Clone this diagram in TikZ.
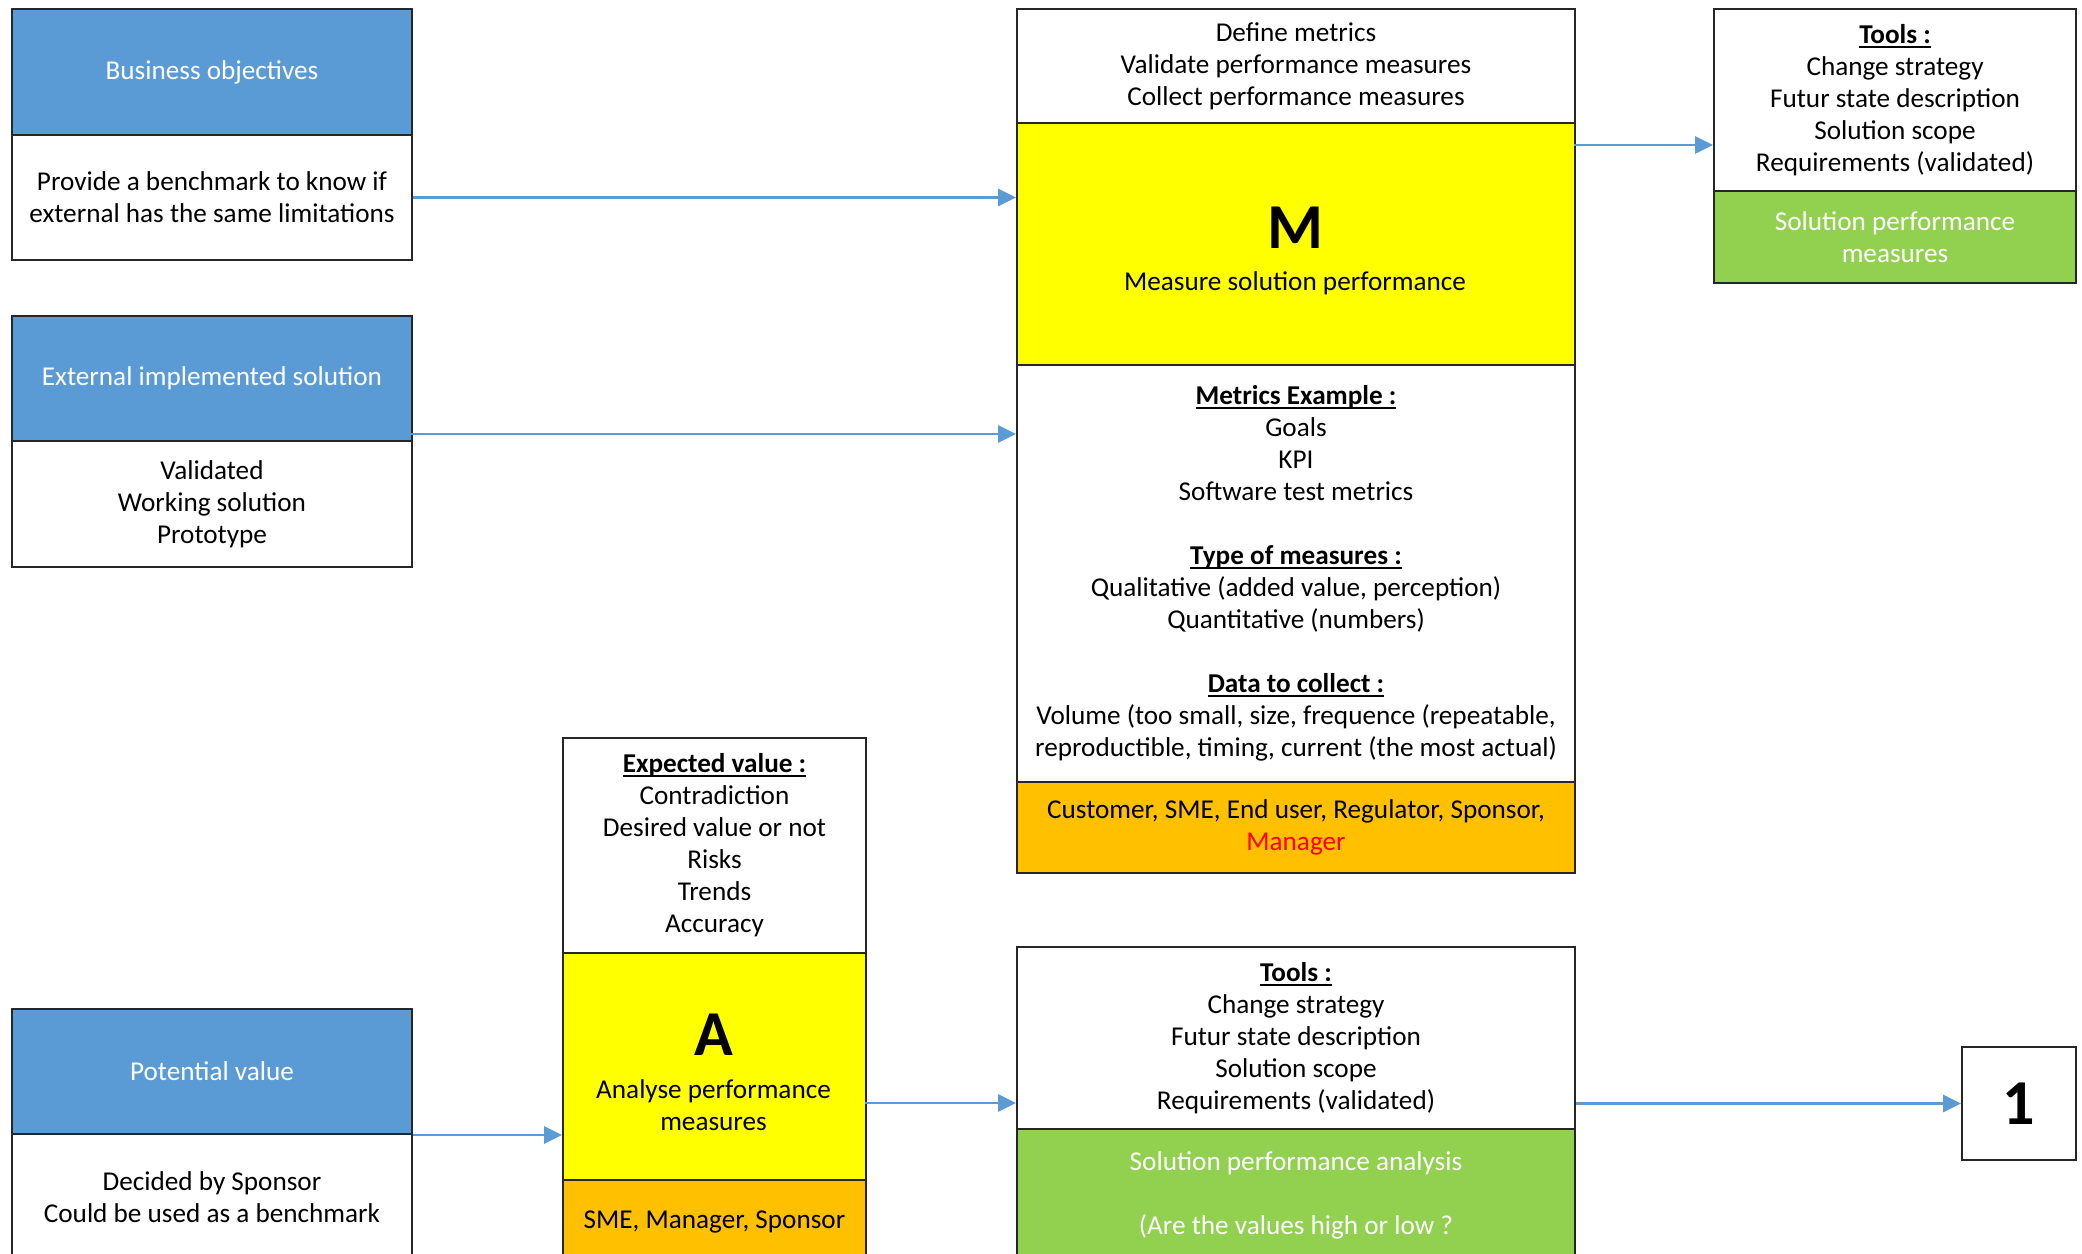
\documentclass[tikz,border=0pt]{standalone}
\usepackage{fontspec}
\setmainfont{Carlito}
\usetikzlibrary{arrows.meta}
\definecolor{boxblue}{HTML}{5B9BD5}
\definecolor{boxyellow}{HTML}{FFFF00}
\definecolor{boxorange}{HTML}{FFC000}
\definecolor{boxgreen}{HTML}{92D050}
\newcommand\bodyfont{\fontsize{27.2}{32}\selectfont}
\newcommand\letterfont{\fontsize{64}{64}\selectfont\bfseries}
\newcommand\myul[1]{\setbox0\hbox{\textbf{#1}}\rlap{\rule[-4.5pt]{\wd0}{2pt}}\box0}
\begin{document}
\begin{tikzpicture}[x=1pt,y=-1pt,
  sec/.style={draw=black!85, line width=2pt, anchor=north west, inner sep=0pt, align=center, font=\bodyfont},
  bluesec/.style={sec, fill=boxblue, text=white},
  whitesec/.style={sec, fill=white, text=black},
  yellowsec/.style={sec, fill=boxyellow, text=black},
  orangesec/.style={sec, fill=boxorange, text=black},
  greensec/.style={sec, fill=boxgreen, text=white},
  sz/.style 2 args={minimum width=#1pt, minimum height=#2pt},
  txt/.style={inner sep=0pt, align=center, font=\bodyfont},
  bigletter/.style={inner sep=0pt, font=\letterfont},
  arr/.style={draw=boxblue, line width=2.8pt, -{Triangle[length=18pt,width=17pt]}}
]
\path[use as bounding box] (0,0) rectangle (2082,1253);
\clip (0,0) rectangle (2082,1253);
\fill[white] (0,0) rectangle (2082,1253);

% Left column
\node[bluesec, sz={400}{126}] (busB) at (11,8) {Business objectives};
\node[whitesec, sz={400}{125}] (busW) at (11,134) {Provide a benchmark to know if\\external has the same limitations};

\node[bluesec, sz={400}{125}] (extB) at (11,315) {External implemented solution};
\node[whitesec, sz={400}{126}] (extW) at (11,440) {Validated\\Working solution\\Prototype};

\node[bluesec, sz={400}{125}] (potB) at (11,1008) {Potential value};
\node[whitesec, sz={400}{127}] (potW) at (11,1133) {Decided by Sponsor\\Could be used as a benchmark};

% M column
\node[whitesec, sz={558}{114}] (Mtop) at (1016,8) {Define metrics\\Validate performance measures\\Collect performance measures};
\node[yellowsec, sz={558}{242}] (Myel) at (1016,122) {};
\node[bigletter] (Mletter) at (1295,228) {M};
\node[txt] (Mcap) at (1295,283) {Measure solution performance};
\node[whitesec, sz={558}{417}] (Mmet) at (1016,364) {\myul{Metrics Example :}\\Goals\\KPI\\Software test metrics\\[32pt]\myul{Type of measures :}\\Qualitative (added value, perception)\\Quantitative (numbers)\\[32pt]\myul{Data to collect :}\\Volume (too small, size, frequence (repeatable,\\reproductible, timing, current (the most actual)};
\node[orangesec, sz={558}{91}] (Mora) at (1016,781) {Customer, SME, End user, Regulator, Sponsor,\\{\color{red}Manager}};

% Tools 1
\node[whitesec, sz={362}{182}] (T1w) at (1713,8) {\myul{Tools :}\\Change strategy\\Futur state description\\Solution scope\\Requirements (validated)};
\node[greensec, sz={362}{92}] (T1g) at (1713,190) {Solution performance\\measures};

% A column
\node[whitesec, sz={303}{215}] (Awh) at (562,737) {\myul{Expected value :}\\Contradiction\\Desired value or not\\Risks\\Trends\\Accuracy};
\node[yellowsec, sz={303}{227}] (Ayel) at (562,952) {};
\node[bigletter] (Aletter) at (713.5,1035) {A};
\node[txt] (Acap) at (713.5,1105) {Analyse performance\\measures};
\node[orangesec, sz={303}{84}] (Aora) at (562,1179) {SME, Manager, Sponsor};

% Tools 2
\node[whitesec, sz={558}{182}] (T2w) at (1016,946) {\myul{Tools :}\\Change strategy\\Futur state description\\Solution scope\\Requirements (validated)};
\node[greensec, sz={558}{133}] (T2g) at (1016,1128) {Solution performance analysis\\[32pt](Are the values high or low ?};

% Box 1
\node[whitesec, sz={114}{113}, font=\letterfont] (one) at (1961,1046) {1};

% Connectors
\coordinate (extOut) at (411,434);
\coordinate (mOut) at (1574,145);
\coordinate (aOut) at (865,1103);
\draw[arr] (busW.east) -- (busW.east -| Myel.west);
\draw[arr] (extOut) -- (extOut -| Mmet.west);
\draw[arr] (mOut) -- (mOut -| T1w.west);
\draw[arr] (potB.south east) -- (potB.south east -| Ayel.west);
\draw[arr] (aOut) -- (aOut -| T2w.west);
\draw[arr] (one.west -| T2w.east) -- (one.west);
\end{tikzpicture}
\end{document}
